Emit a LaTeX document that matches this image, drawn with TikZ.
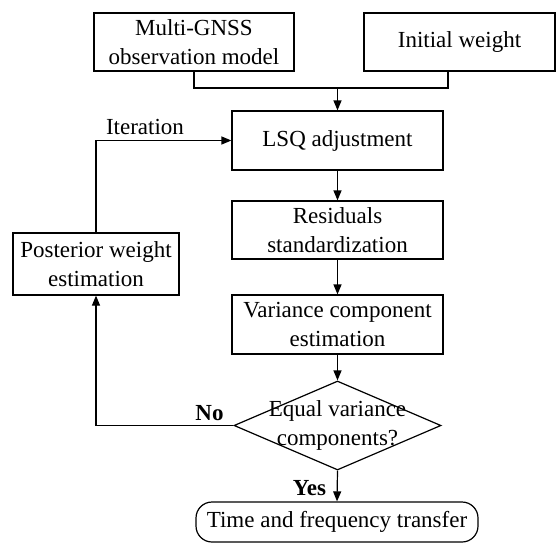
\documentclass[tikz,border=0pt]{standalone}
\usepackage{fontspec}
\setmainfont{Liberation Serif}
\usetikzlibrary{shapes.geometric,arrows.meta}
\begin{document}
\begin{tikzpicture}[x=1pt,y=-1pt,
  txt/.style={font=\fontsize{23}{29}\selectfont},
  box/.style={draw,line width=1.2pt,inner sep=0pt,align=center,txt},
  arr/.style={line width=1.2pt,-{Triangle[length=10pt,width=8pt]}},
  conn/.style={line width=1.2pt},
  lbl/.style={inner sep=0pt,txt}]
\useasboundingbox (0,0) rectangle (556,543);
\node[box,minimum width=200pt,minimum height=58pt] (multi) at (194,42) {Multi-GNSS\\observation model};
\node[box,minimum width=191pt,minimum height=58pt] (init) at (459.5,42) {Initial weight};
\node[box,minimum width=211pt,minimum height=59pt] (lsq) at (337.5,140.5) {LSQ adjustment};
\node[box,minimum width=211pt,minimum height=58pt] (res) at (337.5,230) {Residuals\\standardization};
\node[box,minimum width=211pt,minimum height=59pt] (var) at (337.5,324.5) {Variance component\\estimation};
\node[draw,diamond,line width=1.2pt,inner sep=0pt,minimum width=207pt,minimum height=89pt] (dec) at (337.5,425.5) {};
\node[lbl,align=center] (dectext) at (dec.center) {Equal variance\\components?};
\node[box,rounded corners=16pt,minimum width=282pt,minimum height=40pt] (time) at (337,522) {Time and frequency transfer};
\node[box,minimum width=166pt,minimum height=62pt] (post) at (96,264) {Posterior weight\\estimation};
\coordinate (j) at (337.5,88);
\coordinate (ij) at (448,71);
\draw[conn] (multi.south) |- (ij |- j) -- (ij);
\draw[arr] (j) -- (lsq.north);
\draw[arr] (lsq.south) -- (res.north);
\draw[arr] (res.south) -- (var.north);
\draw[arr] (var.south) -- (dec.north);
\draw[arr] (dec.south) -- (time.north);
\draw[arr] (dec.west) -| (post.south);
\draw[arr] (post.north) |- (lsq.west);
\node[lbl] (iter) at (145,127) {Iteration};
\node[lbl,font=\fontsize{23}{29}\selectfont\bfseries] (no) at (209.5,413) {No};
\node[lbl,font=\fontsize{23}{29}\selectfont\bfseries] (yes) at (309.5,488) {Yes};
\end{tikzpicture}
\end{document}
